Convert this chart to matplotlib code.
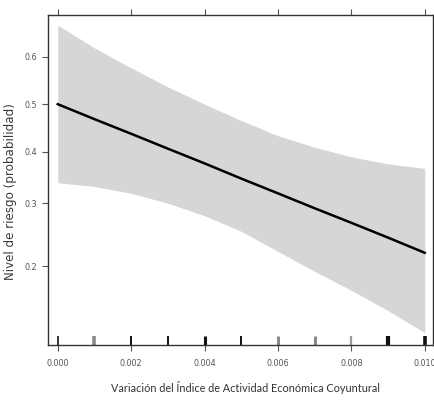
import matplotlib
matplotlib.use('Agg')
import matplotlib.pyplot as plt
from matplotlib.ticker import FixedLocator, FixedFormatter, NullLocator

# fitted probability and confidence band (logit model)
x = [0.000, 0.001, 0.002, 0.003, 0.004, 0.005,
     0.006, 0.007, 0.008, 0.009, 0.010]
fit = [0.500, 0.468, 0.437, 0.406, 0.376, 0.346,
       0.318, 0.291, 0.266, 0.242, 0.219]
lower = [0.338, 0.331, 0.318, 0.300, 0.278, 0.252,
         0.221, 0.193, 0.169, 0.146, 0.124]
upper = [0.663, 0.618, 0.577, 0.537, 0.500, 0.465,
         0.433, 0.409, 0.389, 0.375, 0.366]

# observed values shown as a rug on the x axis
rug_x = [0.000, 0.001, 0.002, 0.003, 0.004, 0.005,
         0.006, 0.007, 0.008, 0.009, 0.010]
rug_color = ['#111111', '#8a8a8a', '#111111', '#111111', '#111111', '#111111',
             '#8a8a8a', '#8a8a8a', '#9a9a9a', '#111111', '#111111']
rug_width = [1.2, 2.6, 1.4, 1.4, 2.2, 1.4, 2.2, 2.2, 1.6, 3.0, 2.6]

x_ticks = [0.000, 0.002, 0.004, 0.006, 0.008, 0.010]
x_labels = ['0.000', '0.002', '0.004', '0.006', '0.008', '0.010']
y_ticks = [0.2, 0.3, 0.4, 0.5, 0.6]
y_labels = ['0.2', '0.3', '0.4', '0.5', '0.6']

fig = plt.figure(figsize=(4.35, 4.0), dpi=100)
ax = fig.add_axes([0.110, 0.1375, 0.885, 0.825])

ax.fill_between(x, lower, upper, color='#d6d6d6', linewidth=0)
ax.plot(x, fit, color='black', linewidth=1.8)

ax.vlines(rug_x, 0, 0.027, colors=rug_color, linewidths=rug_width,
          transform=ax.get_xaxis_transform())

ax.set_yscale('logit')
ax.set_ylim(0.113, 0.682)
ax.set_xlim(-0.00027, 0.01022)

ax.xaxis.set_major_locator(FixedLocator(x_ticks))
ax.xaxis.set_major_formatter(FixedFormatter(x_labels))
ax.yaxis.set_major_locator(FixedLocator(y_ticks))
ax.yaxis.set_major_formatter(FixedFormatter(y_labels))
ax.yaxis.set_minor_locator(NullLocator())
ax.xaxis.set_minor_locator(NullLocator())

ax.tick_params(axis='both', direction='out', length=4, width=0.8,
               colors='#555555', labelsize=6.5, pad=6,
               top=True, right=True)
ax.tick_params(axis='y', pad=4)
for lab in ax.get_xticklabels() + ax.get_yticklabels():
    lab.set_family('DejaVu Sans')
    lab.set_stretch('condensed')

for sp in ax.spines.values():
    sp.set_color('#333333')
    sp.set_linewidth(1.0)

ax.set_ylabel('Nivel de riesgo (probabilidad)', fontsize=8.6,
              color='#3a3a3a')
ax.yaxis.set_label_coords(-0.080, 0.464)
ax.set_xlabel('Variación del Índice de Actividad Económica Coyuntural',
              fontsize=7.8, family=['Lato', 'DejaVu Sans'], color='#333333')
ax.xaxis.set_label_coords(0.514, -0.108)

fig.savefig('out.png', dpi=100)
